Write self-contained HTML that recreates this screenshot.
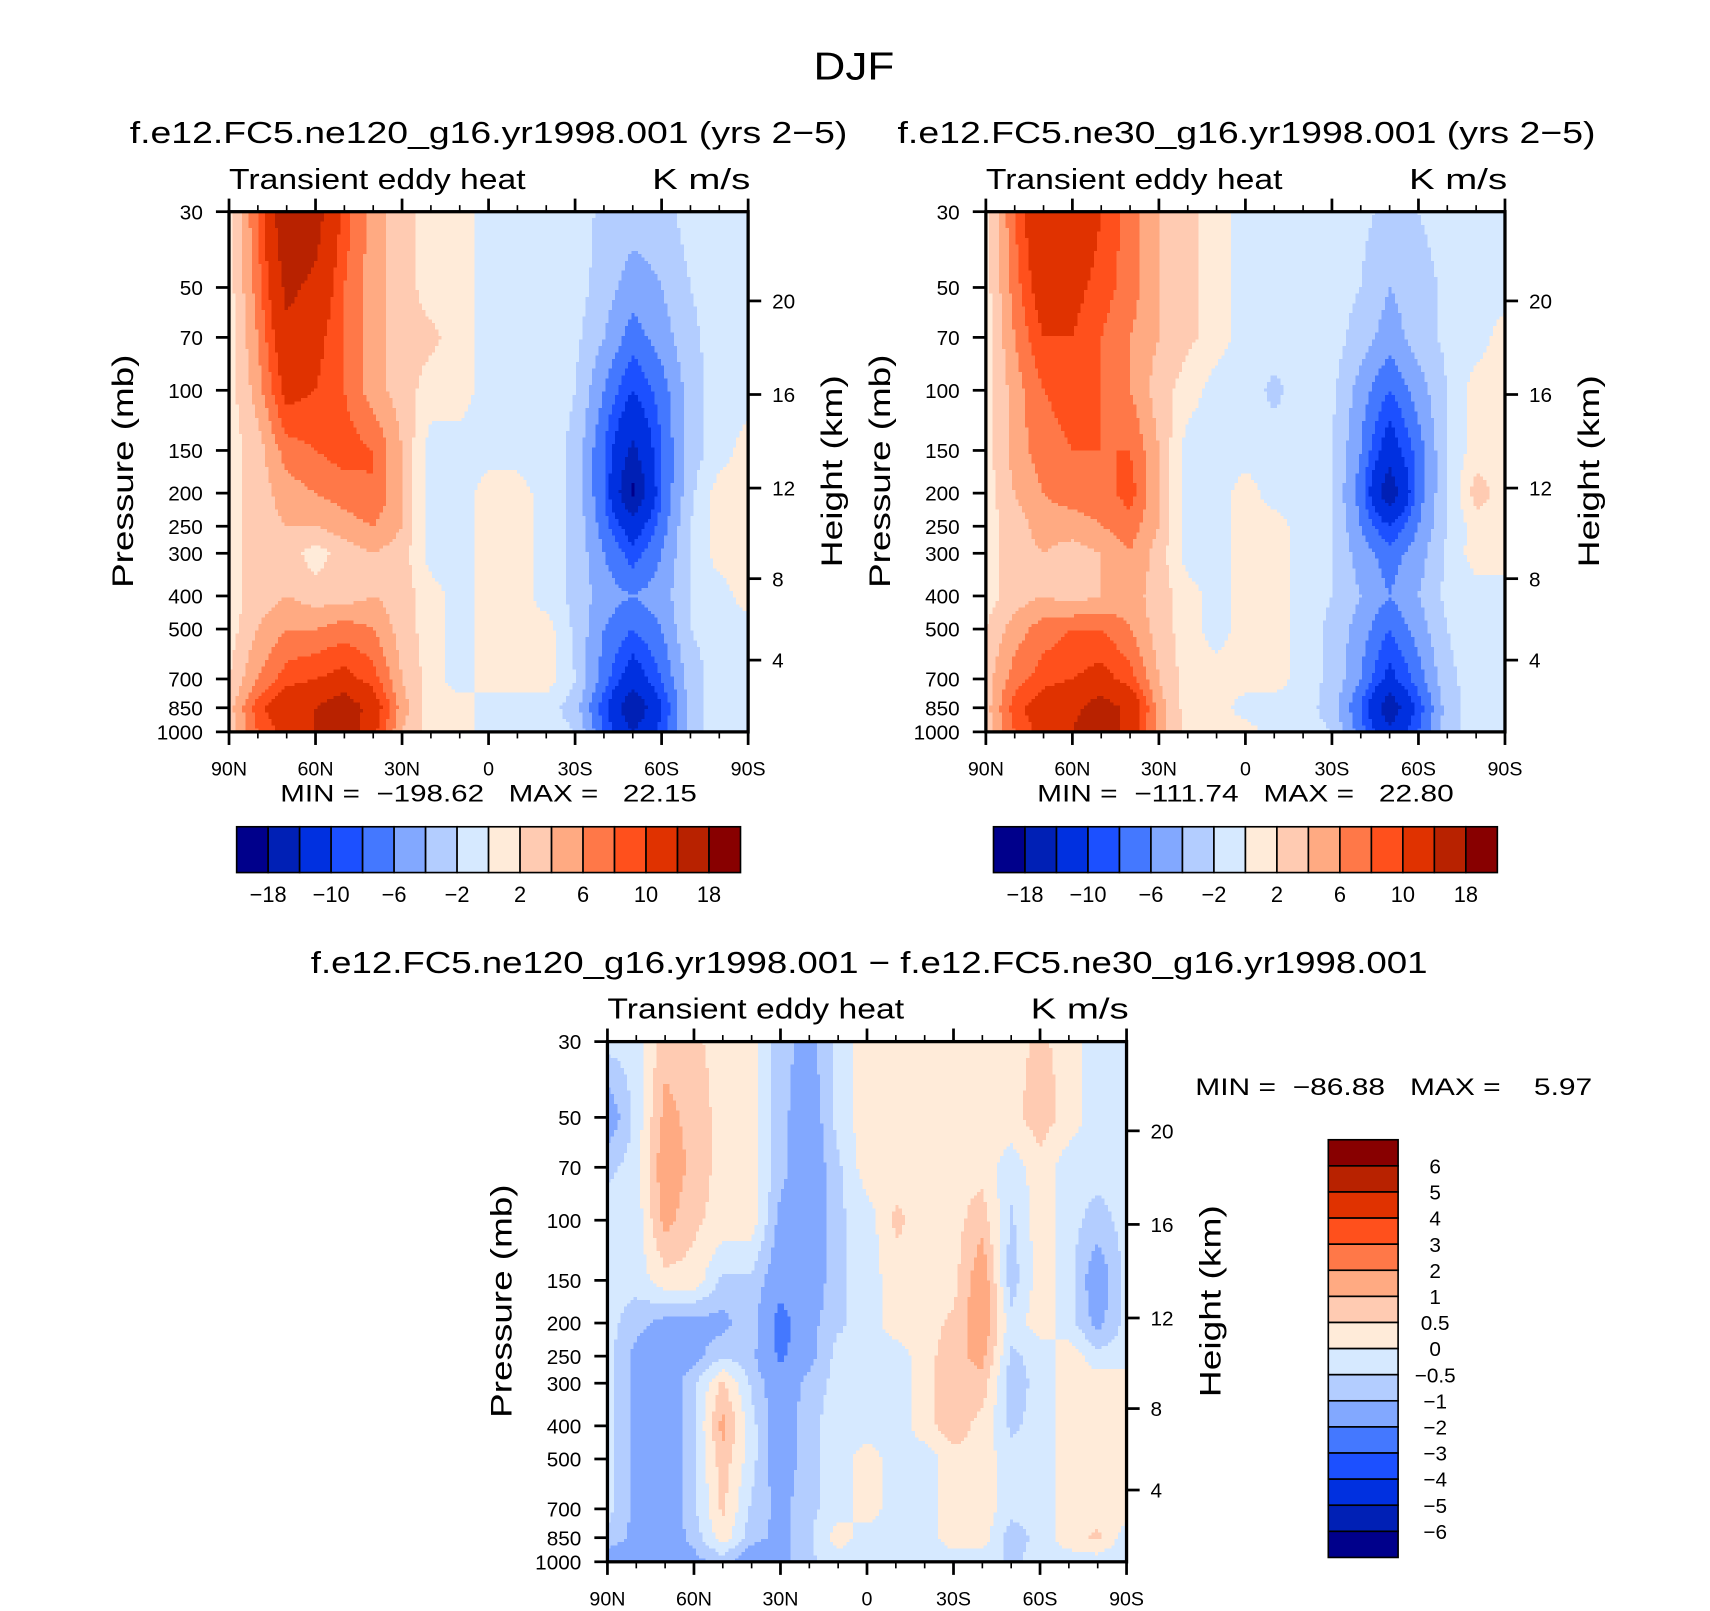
<!DOCTYPE html>
<html><head><meta charset="utf-8"><style>
html,body{margin:0;padding:0;background:#fff}
svg{display:block}
text{font-family:"Liberation Sans",sans-serif;fill:#000}
.pre{white-space:pre}
</style></head><body>
<svg id="fig" width="1710" height="1611" viewBox="0 0 1568 1477" xmlns="http://www.w3.org/2000/svg">
<text x="783" y="73" font-size="36" text-anchor="middle" textLength="74" lengthAdjust="spacingAndGlyphs">DJF</text>
<g id="layer"></g>
</svg>
<script>
// ---------- data ----------
const lats = [90,80,70,60,50,40,30,20,10,0,-10,-20,-30,-40,-50,-60,-70,-80,-90];
const latTickLabels = ["90N","60N","30N","0","30S","60S","90S"];
const latTicks = [90,60,30,0,-30,-60,-90];
const pLevels = [30,50,70,100,150,200,250,300,400,500,700,850,1000];
const pTickLabels = ["30","50","70","100","150","200","250","300","400","500","700","850","1000"];
const heightTicks = [4,8,12,16,20];
const levelsAbs = [-18,-14,-10,-8,-6,-4,-2,0,2,4,6,8,10,14,18];
const levelsAbsLabels = ["−18","","−10","","−6","","−2","","2","","6","","10","","18"];
const levelsDiff = [-6,-5,-4,-3,-2,-1,-0.5,0,0.5,1,2,3,4,5,6];
const levelsDiffLabels = ["−6","−5","−4","−3","−2","−1","−0.5","0","0.5","1","2","3","4","5","6"];
const colors = ["#00008b","#0020b5","#0030e0","#1c50ff","#4478ff","#82a8ff","#b3cdff","#d6e9ff","#ffebd9","#ffcbb2","#ffaa82","#ff7848","#ff501c","#e03200","#b82200","#880000"];

const field1 = [
[1,8,18,16,9,5,3,1,1,-1,-1,-1,-1,-2.5,-3,-3,-1,-1,-1],
[1,7,15,13,8,5,3,1,1,-1,-1,-1,-1,-3,-5,-4,-2,-1,-1],
[1,6,13,11,8,5,3,2.5,1,-1,-1,-1,-1.5,-4,-7,-5,-2.5,-1,-1],
[1,5,11,10,8,5,3,1,1,-1,-1,-1,-2,-6,-10,-7,-3,-1,-1],
[1,3,7,8,9,8,4,-1,-1,-1,-1,-1,-2.5,-8,-15,-8,-3,-1,1],
[1,3,5,6,7,8,4,-1,-1,1,1,-1,-2.5,-8,-19,-8,-2.5,1,1],
[1,3,4,4,5,6,4,-1,-1,1,1,-1,-2.5,-7,-12,-7,-2,1,1],
[1,3,3,1,3,4,3,-1,-1,1,1,-1,-2.5,-6,-9,-6,-2,1,1],
[1,3,4,3,3,4,3,1,-1,1,1,-1,-2.5,-5,-6,-5,-2,-1,1],
[1,4,6,6,7,6,3,1,-1,1,1,1,-2.5,-6,-8,-6,-2,-1,-1],
[2,6,9,10,11,9,4,1,-1,1,1,1,-2,-7,-12,-8,-3,-1,-1],
[3,9,13,14,17,12,5,1,1,-1,-1,-1,-3,-9,-18,-10,-3,-1,-1],
[3,8,11,14,18,11,4,1,1,-1,-1,-1,-2,-8,-14,-9,-3,-1,-1]];

const field2 = [
[1,8,14,13,10,7,4,2.5,1,-1,-1,-1,-1,-1.5,-2.5,-2,-1,-1,-1],
[1,7,12,11,9,7,4,2.5,1,-1,-1,-1,-1,-2,-4,-3,-1.5,-1,-1],
[1,6,10,10,8,6,4,2.5,1,-1,-1,-1,-1,-3,-5,-3,-1.5,-1,1],
[1,5,8,9,8,6,3,1,-1,-1,-2.5,-1,-1.5,-5,-8,-5,-2,1,1],
[1,5,7,8,8,8,4,-1,-1,-1,-1,-1,-2,-6,-12,-7,-2,1,1],
[1,4,6,7,7,9,4,-1,-1,1,-1,-1,-2,-7,-17,-7,-2,3,1],
[1,3,5,5,6,7,4,-1,-1,1,1,-1,-2,-6,-10,-6,-2,1,1],
[1,3,4,3,4,6,3,-1,-1,1,1,-1,-2,-5,-7,-5,-1.5,1,1],
[1,3,4,3,4,5,3,1,-1,1,1,-1,-2,-4,-6,-4,-1.5,-1,-1],
[2,5,7,8,8,6,3,1,-1,1,1,-1,-2.5,-5,-8,-5,-2,-1,-1],
[3,7,9,10,11,9,4,1,1,1,1,-1,-2.5,-6,-11,-7,-2.5,-1,-1],
[3,9,12,13,16,13,5,1,1,-1,-1,-1,-3,-8,-17,-9,-3,-1,-1],
[3,8,11,14,17,12,5,1,1,1,-1,-1,-2,-7,-13,-8,-3,-1,-1]];

const fieldDiff = [
[-0.3,-0.3,0.8,0.6,0.3,0.3,-0.8,-1.2,-0.3,0.3,0.3,0.3,0.3,0.3,0.3,0.6,0.3,-0.3,-0.3],
[-1.5,-0.3,1.2,0.8,0.3,0.3,-0.8,-1.5,-0.3,0.3,0.3,0.3,0.3,0.3,0.3,0.8,0.3,-0.3,-0.3],
[-0.6,-0.3,1.5,0.8,0.3,0.3,-0.8,-1.5,-0.6,0.3,0.3,0.3,0.3,0.3,-0.3,0.3,-0.3,-0.3,-0.3],
[-0.3,-0.3,1.2,0.6,0.3,0.3,-1.2,-1.5,-0.6,-0.3,0.6,0.3,0.3,0.8,-0.6,0.3,-0.3,-0.7,-0.3],
[-0.3,-0.3,0.3,0.3,-0.6,-0.6,-1.5,-1.5,-0.6,-0.3,0.3,0.3,0.3,1.5,-0.8,0.3,-0.3,-1.5,-0.3],
[-0.3,-0.8,-1.2,-1.2,-1.2,-0.6,-2.5,-1.2,-0.6,-0.3,0.3,0.3,0.6,1.5,-0.3,0.3,-0.3,-1.2,-0.3],
[-0.3,-1.2,-1.5,-1.2,-0.6,-0.8,-2.2,-1.2,-0.3,-0.3,-0.3,0.3,0.8,1.2,-0.6,-0.3,0.3,-0.3,-0.3],
[-0.3,-1.2,-1.5,-0.6,0.6,-0.6,-1.5,-0.8,-0.3,-0.3,-0.3,0.3,0.8,0.8,-0.8,-0.3,0.3,0.3,0.3],
[-0.3,-1.2,-1.5,-0.6,1.2,-0.3,-1.5,-0.6,-0.3,-0.3,-0.3,0.3,0.8,0.3,-0.6,-0.3,0.3,0.3,0.3],
[-0.3,-1.2,-1.5,-0.6,0.8,-0.3,-1.5,-0.6,-0.3,0.3,-0.3,-0.3,0.3,0.3,-0.3,-0.3,0.3,0.3,0.3],
[-0.3,-1.2,-1.5,-0.6,0.6,-0.6,-1.2,-0.6,-0.3,0.3,-0.3,-0.3,0.3,0.3,-0.3,-0.3,0.3,0.3,0.3],
[-0.6,-1.2,-1.5,-0.8,0.3,-0.8,-1.2,-0.6,0.3,-0.3,-0.3,-0.3,0.3,0.3,-0.8,-0.3,0.3,0.6,-0.3],
[-1.5,-1.5,-1.5,-1.2,-0.8,-1.5,-1.2,-0.6,-0.3,-0.3,-0.3,-0.3,-0.3,-0.3,-0.6,-0.3,-0.3,-0.3,-0.3]];

// ---------- helpers ----------
const NS = "http://www.w3.org/2000/svg";
const layer = document.getElementById("layer");
function mk(tag, attrs, parent){
  const e = document.createElementNS(NS, tag);
  for (const k in attrs) e.setAttribute(k, attrs[k]);
  (parent||layer).appendChild(e);
  return e;
}
function classOf(v, lv){ let c=0; while(c<lv.length && v>=lv[c]) c++; return c; }
function sample(field, lat, p){
  let fi = (90-lat)/10; fi = Math.max(0, Math.min(lats.length-1-1e-9, fi));
  const lp = Math.log(p);
  let j=0; while(j<pLevels.length-2 && Math.log(pLevels[j+1])<lp) j++;
  let fj = (lp-Math.log(pLevels[j]))/(Math.log(pLevels[j+1])-Math.log(pLevels[j]));
  fj = Math.max(0,Math.min(1,fj));
  const i0=Math.floor(fi), t=fi-i0, i1=Math.min(i0+1,lats.length-1);
  const a=field[j][i0]*(1-t)+field[j][i1]*t;
  const b=field[j+1][i0]*(1-t)+field[j+1][i1]*t;
  return a*(1-fj)+b*fj;
}
function heightToP(z){ return z<=11 ? 1013.25*Math.pow(1-2.25577e-5*z*1000,5.25588) : 226.32*Math.exp(-(z-11)/6.3416); }

function panel(name, x0, y0, field, levels, title, titleCx, titleLen){
  const W=476, H=477;
  const xOf = lat => x0 + (90-lat)/180*W;
  const yOf = p => y0 + Math.log(p/30)/Math.log(1000/30)*H;
  const g = mk("g",{});
  
  
  const t = mk("text",{x:titleCx,y:y0-63,"font-size":28,"text-anchor":"middle",textLength:titleLen,lengthAdjust:"spacingAndGlyphs"},g);
  t.textContent=title;
  
  
  const l = mk("text",{x:x0,y:y0-21,"font-size":26,textLength:272,lengthAdjust:"spacingAndGlyphs"},g);
  l.textContent="Transient eddy heat";
  
  
  const r = mk("text",{x:x0+W+2,y:y0-21,"font-size":26,"text-anchor":"end",textLength:90,lengthAdjust:"spacingAndGlyphs"},g);
  r.textContent="K m/s";
  
  
  const cg = mk("g",{"shape-rendering":"crispEdges"},g);
  
  
  const cs = 3;
  for (let py=0; py<H; py+=cs){
    const p = 30*Math.exp(Math.min(py+cs/2,H)/H*Math.log(1000/30));
    let runStart=0, runCls=-1;
    for (let px=0; px<W+cs; px+=cs){
      let cls=-2;
      if (px<W){ const lat = 90-Math.min(px+cs/2,W)/W*180; cls = classOf(sample(field,lat,p),levels); }
      if (cls!==runCls){
        if (runCls>=0){
          const rc = mk("rect",{x:x0+runStart,y:y0+py,width:Math.min(px,W)-runStart,height:Math.min(cs+0.5,H-py),fill:colors[runCls]},cg);
          
          
        }
        runStart=px; runCls=cls;
      }
    }
  }
  const fr = mk("rect",{x:x0,y:y0,width:W,height:H,fill:"none",stroke:"#000","stroke-width":3},g);
  
  
  for (let lat=90; lat>=-90; lat-=10){
    const major = lat%30===0, x=xOf(lat), L= major?12:6;
    mk("line",{x1:x,y1:y0+H,x2:x,y2:y0+H+L,stroke:"#000","stroke-width":major?2.5:1.5},g);
    mk("line",{x1:x,y1:y0,x2:x,y2:y0-L,stroke:"#000","stroke-width":major?2.5:1.5},g);
  }
  latTicks.forEach((lat,i)=>{
    const tx = mk("text",{x:xOf(lat),y:y0+H+40,"font-size":18,"text-anchor":"middle"},g);
    tx.textContent=latTickLabels[i];
    
    
  });
  pLevels.forEach((p,i)=>{
    const y=yOf(p);
    mk("line",{x1:x0-12,y1:y,x2:x0,y2:y,stroke:"#000","stroke-width":2.5},g);
    const tx = mk("text",{x:x0-24,y:y+7,"font-size":19,"text-anchor":"end"},g);
    tx.textContent=pTickLabels[i];
    
    
  });
  heightTicks.forEach(z=>{
    const y=yOf(heightToP(z));
    mk("line",{x1:x0+W,y1:y,x2:x0+W+12,y2:y,stroke:"#000","stroke-width":2.5},g);
    const tx = mk("text",{x:x0+W+22,y:y+7,"font-size":19},g);
    tx.textContent=String(z);
    
    
  });
  const yl = mk("text",{x:0,y:0,"font-size":27,"text-anchor":"middle",transform:`translate(${x0-88},${y0+238}) rotate(-90)`,textLength:214,lengthAdjust:"spacingAndGlyphs"},g);
  yl.textContent="Pressure (mb)";
  
  
  const hl = mk("text",{x:0,y:0,"font-size":27,"text-anchor":"middle",transform:`translate(${x0+W+86},${y0+238}) rotate(-90)`,textLength:176,lengthAdjust:"spacingAndGlyphs"},g);
  hl.textContent="Height (km)";
  
  
  return g;
}

function hColorbar(x0, y0, levels, labels, minmax){
  const g = mk("g",{});
  
  
  const w=462/16;
  colors.forEach((c,i)=>{
    const r = mk("rect",{x:x0+i*w,y:y0,width:w,height:42,fill:c,stroke:"#000","stroke-width":1.5},g);
    
    
  });
  levels.forEach((v,i)=>{
    if(!labels[i]) return;
    const tx = mk("text",{x:x0+(i+1)*w,y:y0+69,"font-size":20,"text-anchor":"middle"},g);
    tx.textContent=labels[i];
    
    
  });
  const mm = mk("text",{x:x0+231,y:y0-23,"font-size":22,"text-anchor":"middle","class":"pre",textLength:382,lengthAdjust:"spacingAndGlyphs"},g);
  mm.textContent=minmax;
  
  
}

panel("panel-ne120", 210, 194, field1, levelsAbs, "f.e12.FC5.ne120_g16.yr1998.001 (yrs 2−5)", 448, 658);
panel("panel-ne30", 904, 194, field2, levelsAbs, "f.e12.FC5.ne30_g16.yr1998.001 (yrs 2−5)", 1143, 640);
panel("panel-diff", 557, 955, fieldDiff, levelsDiff, "f.e12.FC5.ne120_g16.yr1998.001 − f.e12.FC5.ne30_g16.yr1998.001", 797, 1024);
hColorbar(217, 758, levelsAbs, levelsAbsLabels, "MIN =  −198.62   MAX =   22.15");
hColorbar(911, 758, levelsAbs, levelsAbsLabels, "MIN =  −111.74   MAX =   22.80");

(function(){
  const g = mk("g",{});
  
  
  const x0=1218, y0=1045, h=383/16;
  for(let i=0;i<16;i++){
    const r = mk("rect",{x:x0,y:y0+i*h,width:64,height:h,fill:colors[15-i],stroke:"#000","stroke-width":1.5},g);
    
    
  }
  levelsDiff.forEach((v,k)=>{
    const i = levelsDiff.length-1-k;
    const tx = mk("text",{x:1316,y:y0+(i+1)*h+7,"font-size":19,"text-anchor":"middle"},g);
    tx.textContent=levelsDiffLabels[k];
    
    
  });
  const mm = mk("text",{x:1096,y:1004,"font-size":22,"class":"pre",textLength:364,lengthAdjust:"spacingAndGlyphs"},g);
  mm.textContent="MIN =  −86.88   MAX =    5.97";
  
  
})();
</script>
</body></html>
